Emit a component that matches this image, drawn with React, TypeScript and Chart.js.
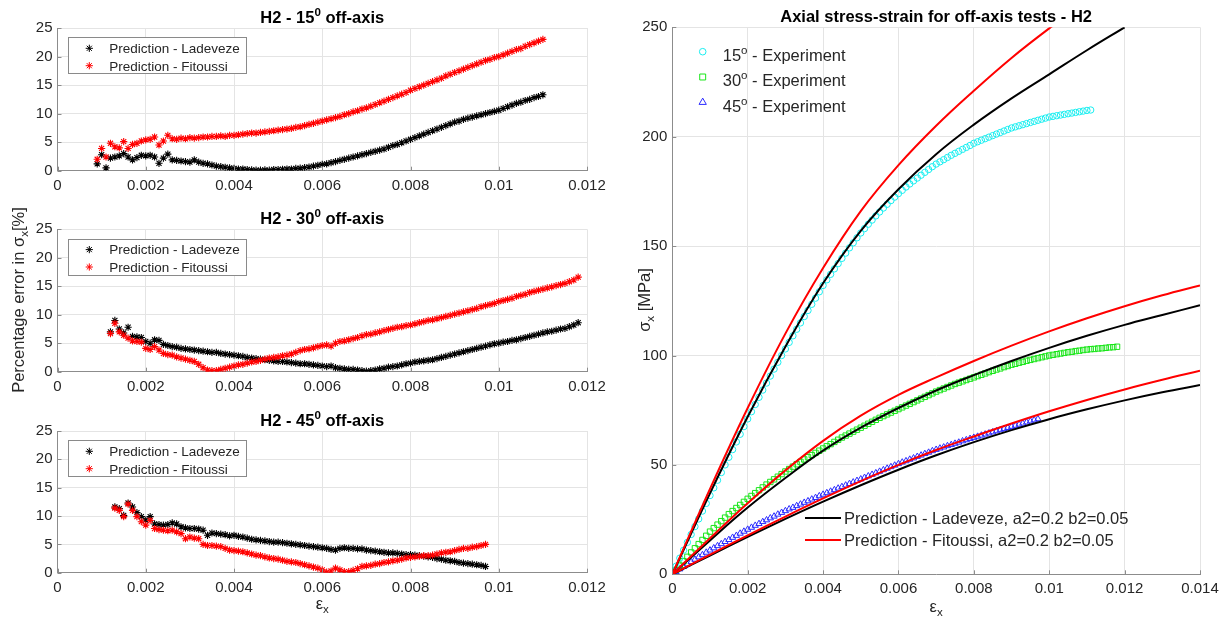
import React, { useEffect, useRef } from 'react';
import { Chart, registerables } from 'chart.js';

Chart.register(...registerables);

const W = 1228;
const H = 625;
const FONT = '"Liberation Sans", Arial, Helvetica, sans-serif';
const TEXT = '#262626';
const GRID = '#e4e4e4';
const AXIS = '#8c8c8c';

// ---------------- DATA ----------------
// strain grid of the measurements (εx)
const strainGrid = [
  0, 0.0001, 0.0002, 0.0003, 0.0004, 0.0005, 0.0006, 0.0007, 0.0008, 0.0009,
  0.001, 0.0011, 0.0012, 0.0013, 0.0014, 0.0015, 0.0016, 0.0017, 0.0018, 0.0019,
  0.002, 0.0021, 0.0022, 0.0023, 0.0024, 0.0025, 0.0026, 0.0027, 0.0028, 0.0029,
  0.003, 0.0031, 0.0032, 0.0033, 0.0034, 0.0035, 0.0036, 0.0037, 0.0038, 0.0039,
  0.004, 0.0041, 0.0042, 0.0043, 0.0044, 0.0045, 0.0046, 0.0047, 0.0048, 0.0049,
  0.005, 0.0051, 0.0052, 0.0053, 0.0054, 0.0055, 0.0056, 0.0057, 0.0058, 0.0059,
  0.006, 0.0061, 0.0062, 0.0063, 0.0064, 0.0065, 0.0066, 0.0067, 0.0068, 0.0069,
  0.007, 0.0071, 0.0072, 0.0073, 0.0074, 0.0075, 0.0076, 0.0077, 0.0078, 0.0079,
  0.008, 0.0081, 0.0082, 0.0083, 0.0084, 0.0085, 0.0086, 0.0087, 0.0088, 0.0089,
  0.009, 0.0091, 0.0092, 0.0093, 0.0094, 0.0095, 0.0096, 0.0097, 0.0098, 0.0099,
  0.01, 0.0101, 0.0102, 0.0103, 0.0104, 0.0105, 0.0106, 0.0107, 0.0108, 0.0109,
  0.011, 0.0111, 0.0112, 0.0113, 0.0114, 0.0115, 0.0116, 0.0117, 0.0118,
];

const offAxisAngles = ['15', '30', '45'];
// first strain index of each error series (0.0009, 0.0012, 0.0013)
const errorStartIndex = [9, 12, 13];

// Percentage error in σx [%] — 15° off-axis
const ladeveze15 = [
  1.2, 2.8, 0.5, 2.2, 2.4, 2.6, 3.0, 2.4, 1.9, 2.3,
  2.7, 2.6, 2.7, 2.4, 1.3, 2.2, 2.9, 1.9, 1.8, 1.7,
  1.6, 1.5, 1.9, 1.5, 1.3, 1.2, 1.0, 0.8, 0.7, 0.6,
  0.5, 0.4, 0.3, 0.3, 0.2, 0.15, 0.1, 0.1, 0.15, 0.1,
  0.2, 0.2, 0.25, 0.3, 0.3, 0.4, 0.45, 0.55, 0.65, 0.8,
  0.95, 1.1, 1.2, 1.4, 1.6, 1.8, 2.0, 2.2, 2.4, 2.6,
  2.8, 3.0, 3.2, 3.4, 3.6, 3.8, 4.1, 4.4, 4.6, 4.9,
  5.2, 5.5, 5.8, 6.1, 6.4, 6.7, 7.0, 7.3, 7.6, 7.9,
  8.2, 8.5, 8.7, 9.0, 9.2, 9.4, 9.6, 9.8, 10.0, 10.2,
  10.4, 10.6, 10.9, 11.2, 11.5, 11.8, 12.0, 12.3, 12.5, 12.8,
  13.0, 13.3,
];
const fitoussi15 = [
  2.0, 3.9, 2.4, 4.8, 4.2, 4.0, 5.1, 3.9, 4.6, 4.8,
  5.2, 5.4, 5.5, 5.9, 4.5, 5.2, 6.2, 5.6, 5.5, 5.7,
  5.6, 5.8, 5.7, 5.8, 5.9, 5.9, 6.0, 6.0, 6.1, 6.0,
  6.2, 6.2, 6.3, 6.4, 6.5, 6.6, 6.6, 6.7, 6.8, 6.9,
  7.0, 7.1, 7.2, 7.3, 7.4, 7.6, 7.7, 7.9, 8.1, 8.3,
  8.5, 8.7, 8.9, 9.1, 9.3, 9.5, 9.8, 10.0, 10.3, 10.5,
  10.8, 11.0, 11.3, 11.6, 11.9, 12.2, 12.5, 12.8, 13.1, 13.4,
  13.7, 14.1, 14.4, 14.7, 15.0, 15.3, 15.6, 15.9, 16.2, 16.6,
  16.9, 17.2, 17.5, 17.8, 18.1, 18.4, 18.7, 19.0, 19.3, 19.5,
  19.8, 20.0, 20.3, 20.6, 20.9, 21.2, 21.4, 21.8, 22.1, 22.4,
  22.7, 23.0,
];

// 30° off-axis
const ladeveze30 = [
  7.0, 9.0, 7.5, 6.8, 7.8, 6.2, 6.1, 6.0, 5.3, 5.0,
  5.6, 5.5, 4.8, 4.6, 4.4, 4.3, 4.1, 4.0, 3.9, 3.8,
  3.7, 3.6, 3.5, 3.4, 3.4, 3.2, 3.1, 3.0, 2.9, 2.8,
  2.7, 2.5, 2.4, 2.3, 2.2, 2.1, 2.0, 1.9, 1.8, 1.8,
  1.7, 1.6, 1.5, 1.4, 1.4, 1.3, 1.2, 1.1, 1.0, 0.9,
  1.0, 0.7, 0.6, 0.5, 0.4, 0.4, 0.3, 0.2, 0.1, 0.2,
  0.3, 0.5, 0.6, 0.8, 0.9, 1.0, 1.2, 1.4, 1.5, 1.7,
  1.8, 1.9, 2.0, 2.1, 2.3, 2.5, 2.7, 2.9, 3.1, 3.3,
  3.5, 3.7, 3.9, 4.1, 4.3, 4.5, 4.7, 4.9, 5.0, 5.2,
  5.3, 5.5, 5.6, 5.8, 6.0, 6.2, 6.4, 6.6, 6.8, 7.0,
  7.1, 7.3, 7.5, 7.6, 7.9, 8.2, 8.6,
];
const fitoussi30 = [
  6.7, 8.5, 7.0, 6.4, 5.9, 5.4, 5.3, 5.2, 4.1, 3.9,
  4.4, 3.8, 3.2, 3.0, 2.9, 2.6, 2.4, 2.2, 2.0, 1.8,
  1.3, 0.7, 0.3, 0.2, 0.2, 0.4, 0.6, 0.8, 1.0, 1.2,
  1.3, 1.5, 1.7, 1.8, 2.0, 2.2, 2.4, 2.5, 2.6, 2.8,
  2.9, 3.1, 3.4, 3.7, 3.9, 4.0, 4.2, 4.4, 4.6, 4.7,
  4.5, 5.0, 5.3, 5.4, 5.6, 5.8, 6.0, 6.3, 6.5, 6.6,
  6.8, 7.0, 7.2, 7.4, 7.6, 7.8, 7.9, 8.1, 8.2, 8.4,
  8.6, 8.8, 9.0, 9.1, 9.3, 9.5, 9.7, 9.9, 10.1, 10.3,
  10.5, 10.7, 10.9, 11.1, 11.4, 11.6, 11.8, 12.0, 12.3, 12.5,
  12.7, 12.9, 13.2, 13.4, 13.6, 13.9, 14.1, 14.3, 14.5, 14.7,
  14.9, 15.1, 15.3, 15.5, 15.8, 16.1, 16.6,
];

// 45° off-axis
const ladeveze45 = [
  11.6, 11.3, 10.1, 12.3, 11.6, 10.6, 9.9, 9.3, 9.9, 8.6,
  8.5, 8.4, 8.5, 8.8, 8.6, 8.1, 7.9, 7.8, 7.8, 7.7,
  7.5, 6.6, 7.0, 6.9, 6.8, 6.7, 6.5, 6.6, 6.4, 6.3,
  6.1, 5.9, 5.8, 5.7, 5.6, 5.5, 5.4, 5.4, 5.3, 5.2,
  5.1, 5.0, 4.9, 4.8, 4.7, 4.6, 4.5, 4.4, 4.3, 4.1,
  4.0, 4.3, 4.4, 4.3, 4.3, 4.2, 4.2, 4.0, 3.9, 3.8,
  3.7, 3.6, 3.5, 3.5, 3.4, 3.3, 3.2, 3.2, 3.1, 3.0,
  2.9, 2.8, 2.7, 2.5, 2.4, 2.2, 2.1, 2.0, 1.8, 1.7,
  1.6, 1.5, 1.4, 1.3, 1.1,
];
const fitoussi45 = [
  11.4, 11.0, 9.9, 12.1, 11.0, 9.9, 9.0, 8.4, 9.2, 7.8,
  7.6, 7.5, 7.4, 7.5, 7.2, 6.9, 6.0, 6.3, 6.1, 6.0,
  5.0, 4.8, 4.8, 4.7, 4.6, 4.3, 4.0, 3.9, 3.8, 3.7,
  3.5, 3.3, 3.1, 3.0, 2.8, 2.6, 2.5, 2.4, 2.2, 2.0,
  1.9, 1.8, 1.6, 1.4, 1.2, 1.0, 0.8, 0.5, 0.1, 0.3,
  0.8, 0.5, 0.2, 0.2, 0.4, 0.7, 1.1, 1.2, 1.3, 1.5,
  1.6, 1.8, 1.9, 2.1, 2.2, 2.4, 2.6, 2.7, 2.8, 2.9,
  3.0, 3.0, 3.1, 3.3, 3.5, 3.6, 3.7, 3.9, 4.1, 4.3,
  4.3, 4.5, 4.6, 4.8, 5.0,
];

// Axial stress σx [MPa] — experiments (from strain 0)
const experiment15 = [
  0, 3.7, 7.4, 11.0, 14.6, 18.2, 21.8, 25.3, 28.9, 32.4,
  36.0, 39.5, 43.0, 46.5, 50.0, 53.5, 57.0, 60.5, 64.0, 67.5,
  71.0, 74.3, 77.6, 80.9, 84.2, 87.4, 90.6, 93.8, 96.9, 100.0,
  103.0, 106.0, 109.0, 112.0, 114.9, 117.8, 120.6, 123.4, 126.2, 129.1,
  132.0, 134.6, 137.1, 139.6, 142.0, 144.4, 146.8, 149.2, 151.5, 153.8,
  156.0, 158.0, 160.0, 161.9, 163.8, 165.6, 167.4, 169.1, 170.8, 172.4,
  174.0, 175.5, 177.0, 178.4, 179.8, 181.1, 182.4, 183.7, 185.0, 186.3,
  187.5, 188.5, 189.5, 190.5, 191.5, 192.4, 193.3, 194.2, 195.1, 196.0,
  197.0, 197.7, 198.4, 199.1, 199.8, 200.5, 201.2, 201.9, 202.6, 203.3,
  204.0, 204.5, 205.0, 205.5, 206.0, 206.5, 207.0, 207.5, 208.0, 208.5,
  209.0, 209.3, 209.6, 209.9, 210.2, 210.5, 210.8, 211.1, 211.4, 211.7,
  212.0, 212.2,
];
const experiment30 = [
  0, 2.0, 4.0, 6.0, 8.0, 10.0, 11.9, 13.8, 15.7, 17.6,
  19.5, 21.1, 22.7, 24.3, 25.9, 27.5, 28.9, 30.3, 31.7, 33.1,
  34.5, 35.8, 37.1, 38.4, 39.7, 41.0, 42.2, 43.4, 44.6, 45.8,
  47.0, 48.1, 49.2, 50.3, 51.4, 52.5, 53.5, 54.5, 55.5, 56.5,
  57.5, 58.5, 59.5, 60.5, 61.5, 62.5, 63.4, 64.3, 65.2, 66.1,
  67.0, 67.9, 68.8, 69.7, 70.6, 71.5, 72.3, 73.1, 73.9, 74.7,
  75.5, 76.3, 77.1, 77.9, 78.7, 79.5, 80.3, 81.1, 81.9, 82.7,
  83.5, 84.2, 84.9, 85.6, 86.3, 87.0, 87.6, 88.2, 88.8, 89.4,
  90.0, 90.6, 91.2, 91.8, 92.4, 93.0, 93.6, 94.1, 94.7, 95.2,
  95.8, 96.2, 96.7, 97.1, 97.6, 98.0, 98.4, 98.8, 99.2, 99.6,
  100.0, 100.3, 100.6, 100.9, 101.2, 101.5, 101.7, 102.0, 102.2, 102.5,
  102.7, 102.9, 103.0, 103.2, 103.3, 103.5, 103.7, 103.8, 104.0,
];
const experiment45 = [
  0, 1.2, 2.4, 3.5, 4.6, 5.7, 6.8, 7.9, 8.9, 10.0,
  11.0, 12.0, 13.0, 13.9, 14.9, 15.8, 16.8, 17.7, 18.7, 19.6,
  20.5, 21.4, 22.3, 23.1, 24.0, 24.8, 25.7, 26.5, 27.4, 28.2,
  29.0, 29.8, 30.5, 31.3, 32.0, 32.8, 33.5, 34.3, 35.0, 35.8,
  36.5, 37.2, 37.9, 38.6, 39.3, 40.0, 40.7, 41.4, 42.1, 42.8,
  43.5, 44.2, 44.9, 45.6, 46.3, 47.0, 47.7, 48.4, 49.1, 49.8,
  50.5, 51.2, 51.8, 52.5, 53.1, 53.8, 54.4, 55.1, 55.7, 56.4,
  57.0, 57.6, 58.1, 58.7, 59.2, 59.8, 60.3, 60.9, 61.4, 62.0,
  62.5, 63.0, 63.5, 64.0, 64.5, 65.0, 65.5, 66.0, 66.5, 67.0,
  67.5, 68.0, 68.5, 69.0, 69.5, 70.0, 70.5, 71.0,
];

// Predictions (strain every 0.001)
const predictionStrain = [0, 0.001, 0.002, 0.003, 0.004, 0.005, 0.006, 0.007, 0.008, 0.009, 0.01, 0.011, 0.012, 0.013, 0.014];
const ladevezeCurve15 = [0, 37, 72, 104, 133, 157, 176, 192, 205.5, 217.5, 228.5, 239.5, 250];
const fitoussiCurve15 = [0, 39, 76, 110, 140, 166, 187, 205, 221, 236, 249.5, 262];
const ladevezeCurve30 = [0, 15.5, 30.5, 44, 56.5, 67, 76, 84, 91, 97.5, 103.5, 109, 114, 118.5, 123];
const fitoussiCurve30 = [0, 16.5, 32.5, 47.5, 61, 72.5, 82, 90, 97.5, 104.5, 111, 117, 122.5, 127.5, 132];
const ladevezeCurve45 = [0, 8.6, 17.1, 25.3, 33.2, 40.7, 47.8, 54.4, 60.4, 65.9, 70.9, 75.4, 79.5, 83.2, 86.5];
const fitoussiCurve45 = [0, 9, 17.8, 26.4, 34.7, 42.6, 50, 56.8, 63, 68.9, 74.5, 79.7, 84.5, 88.9, 93];

// ---------------- LAYOUT ----------------
const LEFT_PLOT = { left: 57.5, right: 587 };
const LEFT_TOPS = [28, 229.3, 431];
const LEFT_BOTTOMS = [170.7, 371.7, 572.7];
const RIGHT_PLOT = { left: 672.3, right: 1200, top: 27.3, bottom: 574.3 };

type Part = { t: string; sup?: boolean; sub?: boolean };

function drawRich(ctx: CanvasRenderingContext2D, parts: Part[], x: number, y: number, size: number, bold: boolean, align: 'left' | 'center', color: string) {
  const fontFor = (p: Part) => `${bold ? 'bold ' : ''}${p.sup || p.sub ? size * 0.7 : size}px ${FONT}`;
  const widths = parts.map((p) => {
    ctx.font = fontFor(p);
    return ctx.measureText(p.t).width;
  });
  const total = widths.reduce((a, b) => a + b, 0);
  let cx = align === 'center' ? x - total / 2 : x;
  ctx.fillStyle = color;
  ctx.textAlign = 'left';
  ctx.textBaseline = 'alphabetic';
  parts.forEach((p, i) => {
    ctx.font = fontFor(p);
    const dy = p.sup ? -size * 0.42 : p.sub ? size * 0.25 : 0;
    ctx.fillText(p.t, cx, y + dy);
    cx += widths[i];
  });
}

function drawMarker(ctx: CanvasRenderingContext2D, style: string, x: number, y: number, r: number, color: string) {
  ctx.save();
  ctx.strokeStyle = color;
  ctx.lineWidth = 1;
  ctx.beginPath();
  if (style === 'star') {
    for (let k = 0; k < 4; k++) {
      const ang = (k * Math.PI) / 4;
      const dx = Math.cos(ang) * r;
      const dy = Math.sin(ang) * r;
      ctx.moveTo(x - dx, y - dy);
      ctx.lineTo(x + dx, y + dy);
    }
  } else if (style === 'circle') {
    ctx.arc(x, y, r, 0, Math.PI * 2);
  } else if (style === 'rect') {
    const s = r * Math.SQRT1_2;
    ctx.rect(x - s, y - s, 2 * s, 2 * s);
  } else if (style === 'triangle') {
    ctx.moveTo(x, y - r);
    ctx.lineTo(x + r * 0.866, y + r * 0.5);
    ctx.lineTo(x - r * 0.866, y + r * 0.5);
    ctx.closePath();
  }
  ctx.stroke();
  ctx.restore();
}

function pairs(xs: number[], start: number, ys: number[]) {
  return ys.map((y, i) => ({ x: xs[start + i], y }));
}

function fmtStrain(v: number) {
  if (Math.abs(v) < 1e-12) return '0';
  return String(parseFloat(v.toFixed(4)));
}

function axisCfg(min: number, max: number, step: number, fmt: (v: number) => string, padding: number, fit: (s: any) => void) {
  return {
    type: 'linear',
    min,
    max,
    ticks: {
      stepSize: step,
      callback: (v: any) => fmt(Number(v)),
      font: { family: FONT, size: 15 },
      color: TEXT,
      padding,
      maxRotation: 0,
      minRotation: 0,
      autoSkip: false,
    },
    grid: { color: GRID, lineWidth: 1, drawTicks: false },
    border: { color: AXIS, width: 1 },
    afterFit: fit,
  };
}

function inwardTicks(chart: any) {
  const ctx: CanvasRenderingContext2D = chart.ctx;
  const a = chart.chartArea;
  const xs = chart.scales.x;
  const ys = chart.scales.y;
  ctx.save();
  ctx.strokeStyle = AXIS;
  ctx.lineWidth = 1;
  ctx.beginPath();
  xs.ticks.forEach((t: any) => {
    const px = Math.round(xs.getPixelForValue(t.value)) + 0.5;
    ctx.moveTo(px, a.bottom);
    ctx.lineTo(px, a.bottom - 4);
  });
  ys.ticks.forEach((t: any) => {
    const py = Math.round(ys.getPixelForValue(t.value)) + 0.5;
    ctx.moveTo(a.left, py);
    ctx.lineTo(a.left + 4, py);
  });
  ctx.stroke();
  ctx.restore();
}

function leftConfig(i: number) {
  const xs = strainGrid;
  const start = errorStartIndex[i];
  const lad = [ladeveze15, ladeveze30, ladeveze45][i];
  const fit = [fitoussi15, fitoussi30, fitoussi45][i];
  const top = LEFT_TOPS[i];
  const bottom = LEFT_BOTTOMS[i];
  const YW = 50;
  const XH = 30;
  const angle = offAxisAngles[i];

  const decor = {
    id: 'decor',
    afterDraw(chart: any) {
      const ctx: CanvasRenderingContext2D = chart.ctx;
      const a = chart.chartArea;
      inwardTicks(chart);
      ctx.save();
      drawRich(ctx, [{ t: `H2 - ${angle}` }, { t: '0', sup: true }, { t: ' off-axis' }], (a.left + a.right) / 2, a.top - 5.5, 16.5, true, 'center', '#000');
      const bx = 68;
      const by = Math.round(a.top + 9.3);
      ctx.fillStyle = '#fff';
      ctx.fillRect(bx, by, 178, 36);
      ctx.strokeStyle = '#8a8a8a';
      ctx.lineWidth = 1;
      ctx.strokeRect(bx + 0.5, by + 0.5, 178, 36);
      const rows = [a.top + 20.3, a.top + 37.7];
      const colors = ['#000000', '#ff0000'];
      chart.data.datasets.forEach((ds: any) => {
        const idx = ds.legendRow;
        drawMarker(ctx, 'star', 89.3, rows[idx], 3.6, colors[idx]);
        ctx.font = `13.5px ${FONT}`;
        ctx.fillStyle = TEXT;
        ctx.textAlign = 'left';
        ctx.textBaseline = 'alphabetic';
        ctx.fillText(ds.label, 109.3, rows[idx] + 4.8);
      });
      if (i === 1) {
        ctx.save();
        ctx.translate(23.5, 300);
        ctx.rotate(-Math.PI / 2);
        drawRich(ctx, [{ t: 'Percentage error in σ' }, { t: 'x', sub: true }, { t: '[%]' }], 0, 0, 16.5, false, 'center', TEXT);
        ctx.restore();
      }
      if (i === 2) {
        drawRich(ctx, [{ t: 'ε' }, { t: 'x', sub: true }], (a.left + a.right) / 2, 608.5, 16.5, false, 'center', TEXT);
      }
      ctx.restore();
    },
  };

  return {
    type: 'scatter',
    data: {
      datasets: [
        {
          label: 'Prediction - Fitoussi',
          legendRow: 1,
          data: pairs(xs, start, fit),
          pointStyle: 'star',
          pointRadius: 3.6,
          borderColor: '#ff0000',
          backgroundColor: '#ff0000',
          pointBorderWidth: 1.1,
          showLine: false,
          order: 0,
        },
        {
          label: 'Prediction - Ladeveze',
          legendRow: 0,
          data: pairs(xs, start, lad),
          pointStyle: 'star',
          pointRadius: 3.6,
          borderColor: '#000000',
          backgroundColor: '#000000',
          pointBorderWidth: 1.1,
          showLine: false,
          order: 1,
        },
      ],
    },
    options: {
      responsive: false,
      animation: false,
      devicePixelRatio: 1,
      events: [],
      layout: {
        autoPadding: false,
        padding: { left: LEFT_PLOT.left - YW, right: W - LEFT_PLOT.right, top, bottom: H - bottom - XH },
      },
      plugins: { legend: { display: false }, tooltip: { enabled: false }, title: { display: false } },
      scales: {
        x: axisCfg(0, 0.012, 0.002, fmtStrain, 6, (s: any) => { s.height = XH; }),
        y: axisCfg(0, 25, 5, (v) => String(Math.round(v)), 5, (s: any) => { s.width = YW; }),
      },
    },
    plugins: [decor],
  };
}

function rightConfig() {
  const YW = 60;
  const XH = 30;
  const lineDs = (label: string, ys: number[], color: string, order: number) => ({
    label,
    data: pairs(predictionStrain, 0, ys),
    showLine: true,
    borderColor: color,
    backgroundColor: color,
    borderWidth: 2,
    pointRadius: 0,
    tension: 0.4,
    clip: 0,
    order,
  });
  const expDs = (label: string, ys: number[], color: string, style: string, r: number) => ({
    label,
    data: pairs(strainGrid, 0, ys),
    showLine: false,
    pointStyle: style,
    pointRadius: r,
    borderColor: color,
    backgroundColor: 'rgba(0,0,0,0)',
    pointBorderWidth: 1,
    order: 3,
  });

  const decor = {
    id: 'decor',
    afterDraw(chart: any) {
      const ctx: CanvasRenderingContext2D = chart.ctx;
      const a = chart.chartArea;
      inwardTicks(chart);
      ctx.save();
      drawRich(ctx, [{ t: 'Axial stress-strain for off-axis tests - H2' }], (a.left + a.right) / 2, a.top - 5, 16.5, true, 'center', '#000');
      const expStyles = [
        ['circle', '#19eef0', 3.3],
        ['rect', '#19e619', 4.2],
        ['triangle', '#2a2aff', 4.2],
      ];
      offAxisAngles.forEach((ang, k) => {
        const y = a.top + 24.4 + k * 25.3;
        drawMarker(ctx, expStyles[k][0] as string, 702.7, y, expStyles[k][2] as number, expStyles[k][1] as string);
        drawRich(ctx, [{ t: ang }, { t: 'o', sup: true }, { t: ' - Experiment' }], 722.7, y + 9.4, 16.5, false, 'left', TEXT);
      });
      const lines = [
        ['#000000', 'Prediction - Ladeveze, a2=0.2 b2=0.05'],
        ['#ff0000', 'Prediction - Fitoussi, a2=0.2 b2=0.05'],
      ];
      lines.forEach((l, k) => {
        const y = 518 + k * 22;
        ctx.strokeStyle = l[0];
        ctx.lineWidth = 2;
        ctx.beginPath();
        ctx.moveTo(805, y);
        ctx.lineTo(841, y);
        ctx.stroke();
        drawRich(ctx, [{ t: l[1] }], 844, y + 6, 16.5, false, 'left', TEXT);
      });
      drawRich(ctx, [{ t: 'ε' }, { t: 'x', sub: true }], (a.left + a.right) / 2, 612, 16.5, false, 'center', TEXT);
      ctx.save();
      ctx.translate(650, 300);
      ctx.rotate(-Math.PI / 2);
      drawRich(ctx, [{ t: 'σ' }, { t: 'x', sub: true }, { t: ' [MPa]' }], 0, 0, 16.5, false, 'center', TEXT);
      ctx.restore();
      ctx.restore();
    },
  };

  return {
    type: 'scatter',
    data: {
      datasets: [
        expDs('15° - Experiment', experiment15, '#19eef0', 'circle', 3.2),
        expDs('30° - Experiment', experiment30, '#19e619', 'rect', 3.8),
        expDs('45° - Experiment', experiment45, '#2a2aff', 'triangle', 3.6),
        lineDs('Prediction - Ladeveze 15', ladevezeCurve15, '#000000', 1),
        lineDs('Prediction - Fitoussi 15', fitoussiCurve15, '#ff0000', 0),
        lineDs('Prediction - Ladeveze 30', ladevezeCurve30, '#000000', 1),
        lineDs('Prediction - Fitoussi 30', fitoussiCurve30, '#ff0000', 0),
        lineDs('Prediction - Ladeveze 45', ladevezeCurve45, '#000000', 1),
        lineDs('Prediction - Fitoussi 45', fitoussiCurve45, '#ff0000', 0),
      ],
    },
    options: {
      responsive: false,
      animation: false,
      devicePixelRatio: 1,
      events: [],
      layout: {
        autoPadding: false,
        padding: { left: RIGHT_PLOT.left - YW, right: W - RIGHT_PLOT.right, top: RIGHT_PLOT.top, bottom: H - RIGHT_PLOT.bottom - XH },
      },
      plugins: { legend: { display: false }, tooltip: { enabled: false }, title: { display: false } },
      scales: {
        x: axisCfg(0, 0.014, 0.002, fmtStrain, 6, (s: any) => { s.height = XH; }),
        y: axisCfg(0, 250, 50, (v) => String(Math.round(v)), 5, (s: any) => { s.width = YW; }),
      },
    },
    plugins: [decor],
  };
}

function ChartCanvas({ make }: { make: () => any }) {
  const ref = useRef<HTMLCanvasElement>(null);
  useEffect(() => {
    const chart = new Chart(ref.current as HTMLCanvasElement, make());
    return () => chart.destroy();
  }, []);
  return (
    <canvas
      ref={ref}
      width={W}
      height={H}
      style={{ position: 'absolute', left: 0, top: 0, width: W, height: H }}
    />
  );
}

export default function App() {
  return (
    <div style={{ position: 'fixed', left: 0, top: 0, width: W, height: H, background: '#ffffff', overflow: 'hidden' }}>
      <ChartCanvas make={() => leftConfig(0)} />
      <ChartCanvas make={() => leftConfig(1)} />
      <ChartCanvas make={() => leftConfig(2)} />
      <ChartCanvas make={() => rightConfig()} />
    </div>
  );
}
